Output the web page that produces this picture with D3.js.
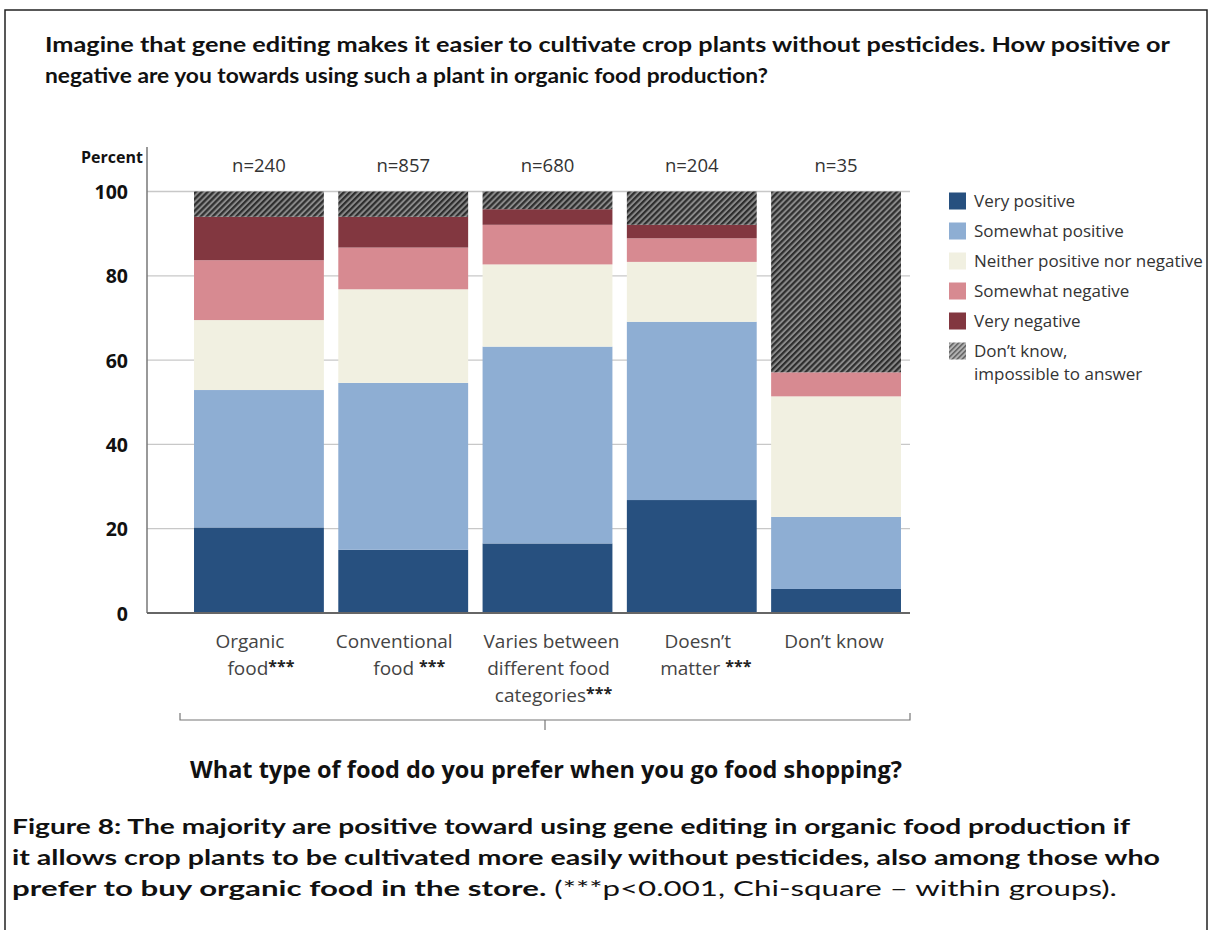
<!DOCTYPE html>
<html><head><meta charset="utf-8">
<script src="https://cdn.jsdelivr.net/npm/d3@7"></script>
<style>body{margin:0;background:#fff;} svg{display:block;}</style>
</head><body>
<svg id="c" width="1210" height="930"></svg>
<script>
const categories = ["Organic food","Conventional food","Varies between different food categories","Doesn't matter","Don't know"];
const nLabels = ["n=240","n=857","n=680","n=204","n=35"];
const seriesNames = ["Very positive","Somewhat positive","Neither positive nor negative","Somewhat negative","Very negative","Don\u2019t know, impossible to answer"];
const veryPositive     = [20.3, 15.0, 16.5, 26.8,  5.7];
const somewhatPositive = [32.6, 39.6, 46.7, 42.3, 17.1];
const neitherPosNeg    = [16.6, 22.2, 19.5, 14.2, 28.6];
const somewhatNegative = [14.2,  9.9,  9.4,  5.6,  5.7];
const veryNegative     = [10.3,  7.3,  3.7,  3.2,  0.0];
const dontKnow         = [ 6.0,  6.0,  4.2,  7.9, 42.9];
const yTicks = [0,20,40,60,80,100];
const xLabelLines = [
  [["Organic",""],["food","***"]],
  [["Conventional",""],["food ","***"]],
  [["Varies between",""],["different food",""],["categories","***"]],
  [["Doesn\u2019t",""],["matter  ","***"]],
  [["Don\u2019t know",""]]
];
const titleLines = ["Imagine that gene editing makes it easier to cultivate crop plants without pesticides. How positive or",
  "negative are you towards using such a plant in organic food production?"];
const xTitle = "What type of food do you prefer when you go food shopping?";

const colors = ["#27507f","#8eaed3","#f1f0e1","#d78a91","#823740","url(#hatch)"];
const keys = ["vp","sp","n","sn","vn","dk"];
const seriesArrays = [veryPositive,somewhatPositive,neitherPosNeg,somewhatNegative,veryNegative,dontKnow];
const table = categories.map((c,i)=>{const o={cat:c}; keys.forEach((k,j)=>o[k]=seriesArrays[j][i]); return o;});

const svg = d3.select("#c");
const defs = svg.append("defs");
const pat = defs.append("pattern").attr("id","hatch").attr("patternUnits","userSpaceOnUse")
  .attr("width",4.2).attr("height",4.2).attr("patternTransform","rotate(45)");
pat.append("rect").attr("width",4.2).attr("height",4.2).attr("fill","#8a8a8a");
pat.append("rect").attr("width",2.2).attr("height",4.2).attr("fill","#2e2e2e");
const pat2 = defs.append("pattern").attr("id","hatchL").attr("patternUnits","userSpaceOnUse")
  .attr("width",3.5).attr("height",3.5).attr("patternTransform","rotate(45)");
pat2.append("rect").attr("width",3.5).attr("height",3.5).attr("fill","#b5b5b5");
pat2.append("rect").attr("width",1.6).attr("height",3.5).attr("fill","#666");

// border
svg.append("path").attr("d","M5,930 L5,10 L1207,10 L1207,930").attr("fill","none").attr("stroke","#222").attr("stroke-width",1.5);

function fit(sel, target){ sel.attr("textLength",target).attr("lengthAdjust","spacingAndGlyphs"); }

// title
titleLines.forEach((t,i)=>{
  const s = svg.append("text").attr("x",45).attr("y",52+i*31).attr("font-family","Lato, 'Open Sans', sans-serif")
    .attr("font-weight","bold").attr("font-size",21.5).attr("fill","#111").text(t);
  fit(s, i===0?1125:723);
});

const x = d3.scaleBand().domain(categories).range([186.8,908.2]).paddingInner(0.1).paddingOuter(0.05);
const y = d3.scaleLinear().domain([0,100]).range([613,191.5]);

// gridlines
svg.append("g").selectAll("line").data(yTicks.filter(d=>d>0)).join("line")
  .attr("x1",147).attr("x2",910).attr("y1",d=>y(d)).attr("y2",d=>y(d))
  .attr("stroke","#c8c8c8").attr("stroke-width",1.3);

// bars
const stack = d3.stack().keys(keys)(table);
svg.append("g").selectAll("g").data(stack).join("g").attr("fill",(d,i)=>colors[i])
  .selectAll("rect").data(d=>d).join("rect")
  .attr("x",d=>x(d.data.cat)).attr("width",x.bandwidth())
  .attr("y",d=>y(d[1])).attr("height",d=>Math.max(0,y(d[0])-y(d[1])));

// axes lines
svg.append("line").attr("x1",147).attr("x2",147).attr("y1",147).attr("y2",613).attr("stroke","#777").attr("stroke-width",1.5);
svg.append("line").attr("x1",147).attr("x2",910).attr("y1",y(0)).attr("y2",y(0)).attr("stroke","#666").attr("stroke-width",2);

// y ticks labels
const yAxis = d3.axisLeft(y).tickValues(yTicks).tickSize(0).tickPadding(0);
const ga = svg.append("g").attr("transform","translate(128,0)").call(yAxis);
ga.select(".domain").remove();
ga.selectAll("text").attr("font-family","'Open Sans', sans-serif").attr("font-weight","bold").attr("font-size",19.5).attr("fill","#111").attr("dy","0.36em");

svg.append("text").attr("x",81).attr("y",163).attr("font-family","'Open Sans', sans-serif").attr("font-weight","bold")
  .attr("font-size",16).attr("fill","#111").text("Percent");

// n labels
svg.append("g").selectAll("text").data(categories).join("text")
  .attr("x",d=>x(d)+x.bandwidth()/2).attr("y",172).attr("text-anchor","middle")
  .attr("font-family","'Open Sans', sans-serif").attr("font-size",18.5).attr("fill","#333")
  .text((d,i)=>nLabels[i]);

// x labels
const xOffsets = [[-9,2],[-9,6],[4,1,6],[6,14],[-2]];
categories.forEach((c,i)=>{
  xLabelLines[i].forEach((ln,j)=>{
    const t = svg.append("text").attr("x",x(c)+x.bandwidth()/2+xOffsets[i][j]).attr("y",648+j*27)
      .attr("text-anchor","middle").attr("font-family","'Open Sans', sans-serif").attr("font-size",19).attr("fill","#444");
    t.append("tspan").text(ln[0]);
    if(ln[1]) t.append("tspan").attr("font-weight","bold").attr("fill","#222").attr("font-size",16).attr("dy",-3).text(ln[1]);
  });
});

// bracket
svg.append("path").attr("d","M180,713 L180,720 L910,720 L910,713 M545,720 L545,730")
  .attr("fill","none").attr("stroke","#777").attr("stroke-width",1.2);

const xt = svg.append("text").attr("x",546).attr("y",778).attr("text-anchor","middle")
  .attr("font-family","'Open Sans', sans-serif").attr("font-weight",700).attr("font-size",23).attr("fill","#111").text(xTitle);
fit(xt, 712);

// legend
const lg = svg.append("g").attr("transform","translate(949,0)");
seriesNames.forEach((s,i)=>{
  const cy = 201 + i*30;
  lg.append("rect").attr("x",0).attr("y",cy-8.5).attr("width",17).attr("height",17)
    .attr("fill", i===5 ? "url(#hatchL)" : colors[i]);
  const parts = i===5 ? ["Don\u2019t know,","impossible to answer"] : [s];
  parts.forEach((p,k)=>{
    lg.append("text").attr("x",25).attr("y",cy+6+k*23).attr("font-family","'Open Sans', sans-serif")
      .attr("font-size",17).attr("fill","#333").text(p);
  });
});

// caption
const capFont = "Lato, 'Open Sans', sans-serif";
const c1 = svg.append("text").attr("x",12).attr("y",834).attr("font-family",capFont).attr("font-weight","bold").attr("font-size",21.5).attr("fill","#111")
  .text("Figure 8: The majority are positive toward using gene editing in organic food production if");
fit(c1,1118);
const c2 = svg.append("text").attr("x",12).attr("y",865).attr("font-family",capFont).attr("font-weight","bold").attr("font-size",21.5).attr("fill","#111")
  .text("it allows crop plants to be cultivated more easily without pesticides, also among those who");
fit(c2,1148);
const c3 = svg.append("text").attr("x",12).attr("y",896).attr("font-family",capFont).attr("font-size",21.5).attr("fill","#111");
c3.append("tspan").attr("font-weight","bold").text("prefer to buy organic food in the store.");
c3.append("tspan").text(" (***p<0.001, Chi-square \u2013 within groups).");
fit(c3,1105);
</script>
</body></html>
